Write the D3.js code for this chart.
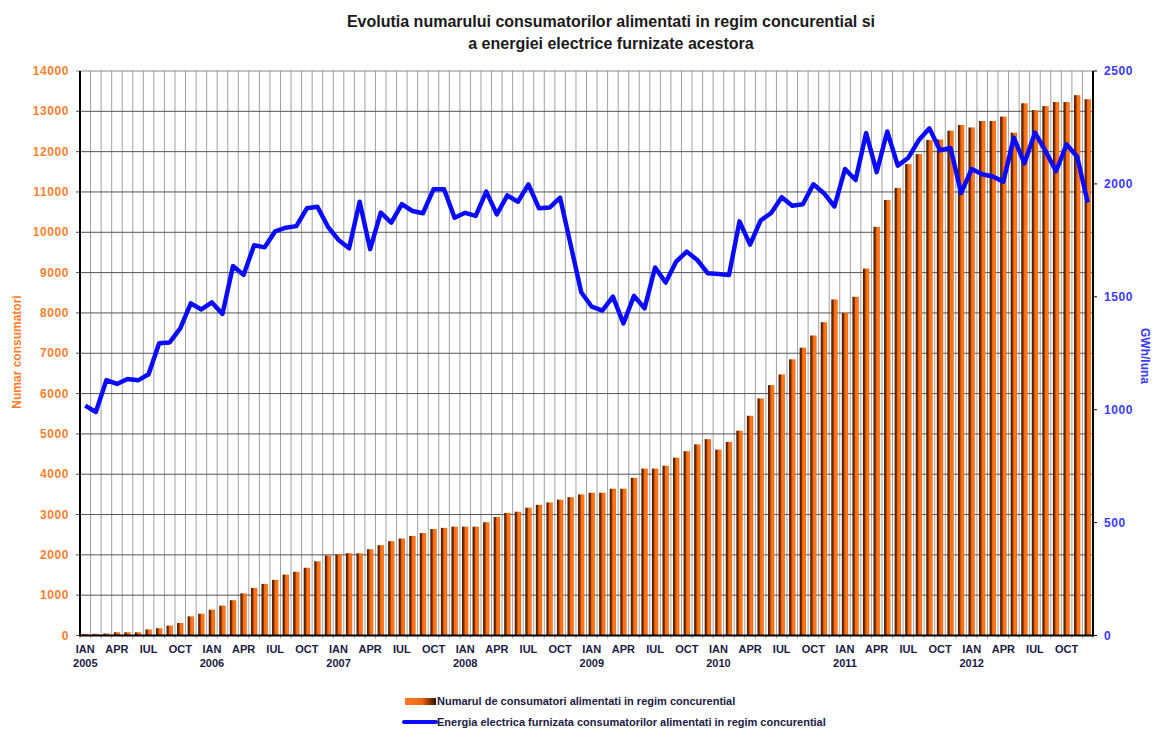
<!DOCTYPE html>
<html>
    <head>
        <title></title>
        <style>
            body { margin: 0; background: #fff; }
            svg text { font-family: "Liberation Sans", Arial, sans-serif; font-weight: bold; }
        </style>
    </head>
    <body>
        <script src="https://cdnjs.cloudflare.com/ajax/libs/d3/7.8.5/d3.min.js" charset="utf-8"></script>
        <script>

        // lunile si anii de pe axa X
        var monthNames = ["IAN", "APR", "IUL", "OCT"];
        var years = ["2005", "2006", "2007", "2008", "2009", "2010", "2011", "2012"];

        // numarul de consumatori (ian 2005 - dec 2012)
        var consumatori = [
            40, 40, 50, 80, 80, 80, 150, 180, 245, 310, 475, 540,
            640, 740, 875, 1045, 1180, 1280, 1380, 1510, 1580, 1680, 1840, 1985,
            2010, 2040, 2040, 2140, 2240, 2340, 2405, 2470, 2540, 2640, 2670, 2700,
            2700, 2700, 2810, 2940, 3040, 3070, 3170, 3240, 3300, 3370, 3430, 3500,
            3540, 3540, 3640, 3640, 3910, 4140, 4140, 4210, 4410, 4570, 4740, 4870,
            4610, 4800, 5080, 5450, 5880, 6210, 6475, 6850, 7140, 7440, 7770, 8335,
            8000, 8400, 9100, 10135, 10800, 11100, 11690, 11940, 12290, 12300, 12520, 12660,
            12600, 12760, 12760, 12870, 12470, 13200, 13030, 13130, 13230, 13230, 13400, 13300
        ];

        // energia furnizata, GWh/luna
        var energie = [
            1018, 990, 1131, 1114, 1136, 1130, 1157, 1294, 1298, 1360, 1471, 1444,
            1475, 1424, 1636, 1597, 1728, 1719, 1790, 1806, 1813, 1892, 1899, 1810,
            1752, 1715, 1921, 1711, 1873, 1828, 1910, 1880, 1870, 1976, 1976, 1850,
            1872, 1858, 1966, 1865, 1949, 1921, 1998, 1892, 1895, 1939, 1730, 1520,
            1456, 1439, 1501, 1382, 1504, 1449, 1630, 1563, 1656, 1700, 1663, 1604,
            1601, 1596, 1834, 1731, 1838, 1871, 1941, 1903, 1910, 1998, 1959, 1900,
            2066, 2017, 2225, 2052, 2232, 2081, 2116, 2194, 2246, 2149, 2159, 1959,
            2066, 2043, 2033, 2010, 2205, 2091, 2227, 2145, 2056, 2175, 2120, 1918
        ];

        var leftTicks = d3.range(0, 14001, 1000);
        var rightTicks = [0, 500, 1000, 1500, 2000, 2500];

        var w = 1153;
        var h = 729;
        var pLeft = 80, pRight = 1093, pTop = 71, pBottom = 635.5;

        var svg = d3.select("body")
                    .append("svg")
                    .attr("width", w)
                    .attr("height", h);

        var months = d3.range(consumatori.length);

        var xScale = d3.scaleBand()
                       .domain(months)
                       .range([pLeft, pRight])
                       .paddingInner(0.4)
                       .paddingOuter(0.2);
        var step = xScale.step();
        var xEdge = function(i) { return xScale(i) - step * 0.2; };
        var xMid = function(i) { return xScale(i) + xScale.bandwidth() / 2; };

        var yLeft = d3.scaleLinear().domain([0, 14000]).range([pBottom, pTop]);
        var yRight = d3.scaleLinear().domain([0, 2500]).range([pBottom, pTop]);

        var defs = svg.append("defs");
        var g1 = defs.append("linearGradient").attr("id", "barGrad");
        [["0%", "#3f1a00"], ["30%", "#7a3000"], ["48%", "#ff6a0a"], ["80%", "#ff7c22"], ["100%", "#f26000"]]
            .forEach(function(s) { g1.append("stop").attr("offset", s[0]).attr("stop-color", s[1]); });
        var g2 = defs.append("linearGradient").attr("id", "legGrad");
        [["0%", "#ff7a2a"], ["55%", "#f0640f"], ["100%", "#2a1000"]]
            .forEach(function(s) { g2.append("stop").attr("offset", s[0]).attr("stop-color", s[1]); });

        //grid
        svg.append("g")
            .selectAll("line")
            .data(d3.range(consumatori.length + 1))
            .enter()
            .append("line")
            .attr("x1", function(d) { return d < consumatori.length ? xEdge(d) : pRight; })
            .attr("x2", function(d) { return d < consumatori.length ? xEdge(d) : pRight; })
            .attr("y1", pTop)
            .attr("y2", pBottom + 3)
            .attr("stroke", "#a0a0a0")
            .attr("stroke-width", 1);

        svg.append("g")
            .selectAll("line")
            .data(leftTicks)
            .enter()
            .append("line")
            .attr("x1", pLeft - 4)
            .attr("x2", pRight)
            .attr("y1", function(d) { return yLeft(d); })
            .attr("y2", function(d) { return yLeft(d); })
            .attr("stroke", function(d) { return d == 14000 ? "#888" : "#555"; })
            .attr("stroke-width", 1);

        //bars
        svg.append("g")
            .selectAll("rect")
            .data(consumatori)
            .enter()
            .append("rect")
            .attr("x", function(d, i) { return xScale(i); })
            .attr("y", function(d) { return yLeft(d); })
            .attr("width", xScale.bandwidth())
            .attr("height", function(d) { return pBottom - yLeft(d); })
            .attr("fill", "url(#barGrad)");

        //line
        var line = d3.line()
                     .x(function(d, i) { return xMid(i); })
                     .y(function(d) { return yRight(d); });

        svg.append("path")
            .datum(energie)
            .attr("d", line)
            .attr("fill", "none")
            .attr("stroke", "#0a0aff")
            .attr("stroke-width", 4.5)
            .attr("stroke-linejoin", "round");

        //axes
        svg.append("line").attr("x1", pLeft).attr("x2", pLeft).attr("y1", pTop).attr("y2", pBottom + 1)
            .attr("stroke", "#000").attr("stroke-width", 2);
        svg.append("line").attr("x1", pRight).attr("x2", pRight).attr("y1", pTop).attr("y2", pBottom + 1)
            .attr("stroke", "#000").attr("stroke-width", 2);
        svg.append("line").attr("x1", pLeft).attr("x2", pRight).attr("y1", pBottom).attr("y2", pBottom)
            .attr("stroke", "#000").attr("stroke-width", 2);

        svg.append("g")
            .selectAll("line")
            .data(rightTicks)
            .enter()
            .append("line")
            .attr("x1", pRight)
            .attr("x2", pRight + 4)
            .attr("y1", function(d) { return yRight(d); })
            .attr("y2", function(d) { return yRight(d); })
            .attr("stroke", "#000");

        svg.append("g")
            .selectAll("text")
            .data(leftTicks)
            .enter()
            .append("text")
            .text(function(d) { return d; })
            .attr("x", 69)
            .attr("y", function(d) { return yLeft(d) + 4; })
            .attr("text-anchor", "end")
            .attr("font-size", "12px")
            .attr("letter-spacing", "0.6px")
            .attr("fill", "#ff7f2e");

        svg.append("g")
            .selectAll("text")
            .data(rightTicks)
            .enter()
            .append("text")
            .text(function(d) { return d; })
            .attr("x", 1104)
            .attr("y", function(d) { return yRight(d) + 4; })
            .attr("font-size", "12px")
            .attr("letter-spacing", "0.6px")
            .attr("fill", "#3a3aff");

        //month labels
        var quarters = months.filter(function(i) { return i % 3 == 0; });
        svg.append("g")
            .selectAll("text")
            .data(quarters)
            .enter()
            .append("text")
            .text(function(d) { return monthNames[(d % 12) / 3]; })
            .attr("x", function(d) { return xMid(d); })
            .attr("y", 653)
            .attr("text-anchor", "middle")
            .attr("font-size", "11px")
            .attr("fill", "#1b1b44");

        svg.append("g")
            .selectAll("text")
            .data(years)
            .enter()
            .append("text")
            .text(function(d) { return d; })
            .attr("x", function(d, i) { return xMid(i * 12); })
            .attr("y", 667)
            .attr("text-anchor", "middle")
            .attr("font-size", "11px")
            .attr("fill", "#1b1b44");

        //axis titles
        svg.append("text")
            .text("Numar consumatori")
            .attr("transform", "translate(21,352) rotate(-90)")
            .attr("text-anchor", "middle")
            .attr("font-size", "12px")
            .attr("fill", "#ff7f2e");

        svg.append("text")
            .text("GWh/luna")
            .attr("transform", "translate(1141,356) rotate(90)")
            .attr("text-anchor", "middle")
            .attr("font-size", "12px")
            .attr("fill", "#3a3aff");

        //title
        svg.append("text")
            .text("Evolutia numarului consumatorilor alimentati in regim concurential si")
            .attr("x", 611).attr("y", 27)
            .attr("text-anchor", "middle")
            .attr("font-size", "16px")
            .attr("fill", "#1a1a1a");
        svg.append("text")
            .text("a energiei electrice furnizate acestora")
            .attr("x", 611).attr("y", 49)
            .attr("text-anchor", "middle")
            .attr("font-size", "16px")
            .attr("fill", "#1a1a1a");

        //legend
        svg.append("rect")
            .attr("x", 405).attr("y", 698)
            .attr("width", 31).attr("height", 7)
            .attr("fill", "url(#legGrad)");
        svg.append("text")
            .text("Numarul de consumatori alimentati in regim concurential")
            .attr("x", 437).attr("y", 705)
            .attr("font-size", "11px")
            .attr("fill", "#1b1b44");

        svg.append("line")
            .attr("x1", 404).attr("x2", 436)
            .attr("y1", 722).attr("y2", 722)
            .attr("stroke", "#0a0aff").attr("stroke-width", 4)
            .attr("stroke-linecap", "round");
        svg.append("text")
            .text("Energia electrica furnizata consumatorilor alimentati in regim concurential")
            .attr("x", 437).attr("y", 726)
            .attr("font-size", "11px")
            .attr("fill", "#1b1b44");

        </script>
    </body>
</html>
